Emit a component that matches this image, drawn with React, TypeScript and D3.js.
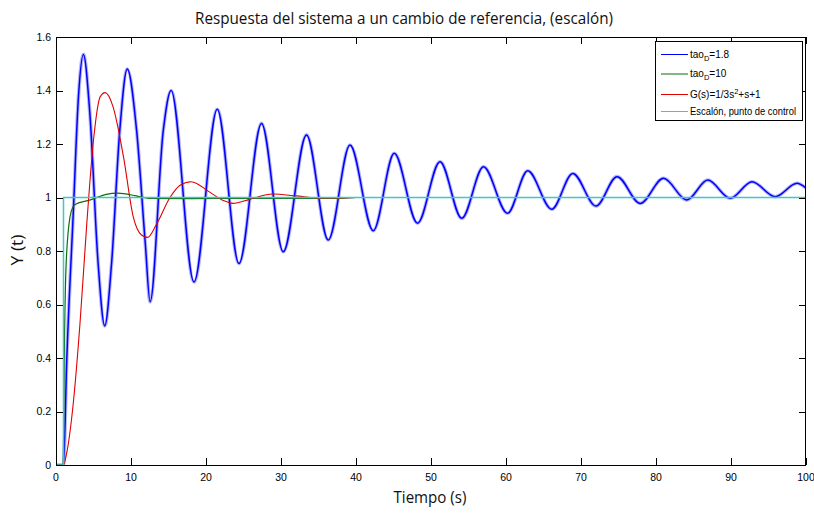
import React from 'react';
import * as d3 from 'd3';

// ---- Data ----
const xTicks = [0, 10, 20, 30, 40, 50, 60, 70, 80, 90, 100];
const yTicks = [0, 0.2, 0.4, 0.6, 0.8, 1, 1.2, 1.4, 1.6];
const yTickLabels = ['0', '0.2', '0.4', '0.6', '0.8', '1', '1.2', '1.4', '1.6'];

// tao_D = 1.8 (blue)
const blueT = [0, 1, 1.42, 2.3, 3.0, 3.65, 4.5, 5.6, 6.5, 7.4, 8.5, 9.5, 10.75, 11.9, 12.55, 14.3, 15.35,
  18.4, 21.5, 24.4, 27.4, 30.3, 33.4, 36.3, 39.2, 42.3, 45.1, 48.2, 51.2, 54.1, 57.0, 60.2, 62.9, 66.1,
  68.9, 72.0, 74.8, 77.9, 81.0, 84.1, 86.9, 89.9, 92.8, 95.9, 98.8, 100];
const blueY = [0, 0, 0.38, 0.94, 1.38, 1.535, 1.32, 0.76, 0.52, 0.75, 1.25, 1.48, 1.25, 0.83, 0.61, 1.25, 1.40,
  0.684, 1.33, 0.753, 1.277, 0.797, 1.234, 0.841, 1.196, 0.876, 1.165, 0.904, 1.134, 0.922, 1.115, 0.941, 1.10, 0.956,
  1.09, 0.968, 1.078, 0.978, 1.072, 0.991, 1.065, 0.997, 1.059, 1.003, 1.053, 1.035];

// tao_D = 10 (green)
const greenT = [0, 0.95, 1.1, 1.35, 1.87, 2.3, 2.6, 4.5, 6.7, 8.2, 10.7, 12.4, 18, 25, 30, 38, 40, 100];
const greenY = [0, 0, 0.4, 0.75, 0.928, 0.966, 0.975, 0.99, 1.012, 1.016, 1.006, 0.997, 0.996, 0.997, 0.997, 0.997, 1.0, 1.0];

// G(s) = 1/(3s^2+s+1) (red)
const redT = [0, 1, 1.42, 2.3, 3.2, 4.1, 5.0, 5.9, 6.55, 7.6, 9.0, 10.3, 11.4, 12.2, 13.4, 15.2, 16.5, 18.0,
  20.4, 22.2, 23.6, 25.8, 28.9, 32, 35, 38, 40, 100];
const redY = [0, 0, 0.044, 0.23, 0.53, 0.9, 1.215, 1.377, 1.392, 1.34, 1.152, 0.928, 0.86, 0.851, 0.9, 1.0, 1.045, 1.059,
  1.022, 0.99, 0.978, 0.993, 1.013, 1.006, 0.998, 0.998, 1.0, 1.0];

// Step / set point (cyan)
const stepT = [0, 1, 1, 100];
const stepY = [0, 0, 1, 1];

const legendLabels = ['tao', 'tao', 'G(s)=1/3s', 'Escalón, punto de control'];

const W = 814, H = 514;
const left = 56, right = 806, top = 37, bottom = 465;

export default function App() {
  const x = d3.scaleLinear().domain([0, 100]).range([left, right]);
  const y = d3.scaleLinear().domain([0, 1.6]).range([bottom, top]);

  const mk = (ts: number[], vs: number[], curve: any) =>
    d3.line<number>().x((_, i) => x(ts[i])).y((_, i) => y(vs[i])).curve(curve)(ts.map((_, i) => i)) || '';

  const bluePath = mk(blueT, blueY, d3.curveMonotoneX);
  const greenPath = mk(greenT, greenY, d3.curveMonotoneX);
  const redPath = mk(redT, redY, d3.curveMonotoneX);
  const stepPath = mk(stepT, stepY, d3.curveLinear);

  const blue = '#0000ff';
  const green = '#0b6e0b';
  const red = '#e00000';
  const cyan = '#3cc8c8';
  const tickFont = "'Liberation Sans Narrow', 'Arial Narrow', 'Liberation Sans', Arial, sans-serif";
  const titleFont = "'Open Sans', 'Noto Sans', sans-serif";

  const legendRows = [54.5, 74, 94.5, 111.5];
  const legendColors = [blue, green, red, cyan];

  return (
    <svg width={W} height={H} style={{ position: 'absolute', left: 0, top: 0, background: '#fff' }}>
      <rect x={0} y={0} width={W} height={H} fill="#fff" />
      <clipPath id="plotClip">
        <rect x={left} y={top} width={right - left} height={bottom - top} />
      </clipPath>

      {/* curves */}
      <g clipPath="url(#plotClip)" fill="none">
        <path d={bluePath} stroke="#5a5ae6" strokeWidth={3.6} strokeOpacity={0.45} />
        <path d={bluePath} stroke={blue} strokeWidth={1.5} />
        <path d={greenPath} stroke={green} strokeWidth={1.2} />
        <path d={redPath} stroke={red} strokeWidth={1.1} />
        <path d={stepPath} stroke={cyan} strokeWidth={1.5} />
      </g>

      {/* frame */}
      <rect x={left + 0.5} y={top + 0.5} width={right - left - 1} height={bottom - top} fill="none" stroke="#000" strokeWidth={1} />

      {/* ticks */}
      <g stroke="#000" strokeWidth={1}>
        {xTicks.map(t => (
          <g key={'xt' + t}>
            <line x1={Math.round(x(t)) + 0.5} x2={Math.round(x(t)) + 0.5} y1={bottom} y2={bottom - 7} />
            <line x1={Math.round(x(t)) + 0.5} x2={Math.round(x(t)) + 0.5} y1={top} y2={top + 7} />
          </g>
        ))}
        {yTicks.map(t => (
          <g key={'yt' + t}>
            <line x1={left} x2={left + 7} y1={Math.round(y(t)) + 0.5} y2={Math.round(y(t)) + 0.5} />
            <line x1={right} x2={right - 7} y1={Math.round(y(t)) + 0.5} y2={Math.round(y(t)) + 0.5} />
          </g>
        ))}
      </g>

      {/* tick labels */}
      <g fontFamily={tickFont} fontSize={10.5} fill="#000">
        {xTicks.map(t => (
          <text key={'xl' + t} x={x(t)} y={481} textAnchor="middle">{t}</text>
        ))}
        {yTicks.map((t, i) => (
          <text key={'yl' + t} x={51} y={y(t) + 3.5} textAnchor="end">{yTickLabels[i]}</text>
        ))}
      </g>

      {/* title and axis labels */}
      <text x={404} y={24} textAnchor="middle" fontFamily={titleFont} fontSize={16.5} fill="#111"
        textLength={418} lengthAdjust="spacingAndGlyphs">Respuesta del sistema a un cambio de referencia, (escalón)</text>
      <text x={430} y={503} textAnchor="middle" fontFamily={titleFont} fontSize={17} fill="#111"
        textLength={73} lengthAdjust="spacingAndGlyphs">Tiempo (s)</text>
      <text transform="translate(23,250) rotate(-90)" textAnchor="middle" fontFamily={titleFont} fontSize={17} fill="#111"
        textLength={31} lengthAdjust="spacingAndGlyphs">Y (t)</text>

      {/* legend */}
      <rect x={655.5} y={41.5} width={147} height={79} fill="#fff" stroke="#000" strokeWidth={1} />
      <g fontFamily={tickFont} fontSize={10} fill="#000">
        {legendRows.map((ry, i) => (
          <line key={'ll' + i} x1={661} x2={688} y1={ry} y2={ry} stroke={legendColors[i]} strokeWidth={1} />
        ))}
        <text x={690} y={legendRows[0] + 3}>
          {legendLabels[0]}<tspan fontSize={7.5} dy={3}>D</tspan><tspan dy={-3}>=1.8</tspan>
        </text>
        <text x={690} y={legendRows[1] + 3}>
          {legendLabels[1]}<tspan fontSize={7.5} dy={3}>D</tspan><tspan dy={-3}>=10</tspan>
        </text>
        <text x={690} y={legendRows[2] + 3.5}>
          {legendLabels[2]}<tspan fontSize={7.5} dy={-4}>2</tspan><tspan dy={4}>+s+1</tspan>
        </text>
        <text x={690} y={legendRows[3] + 3.5} textLength={106} lengthAdjust="spacingAndGlyphs">{legendLabels[3]}</text>
      </g>
    </svg>
  );
}
